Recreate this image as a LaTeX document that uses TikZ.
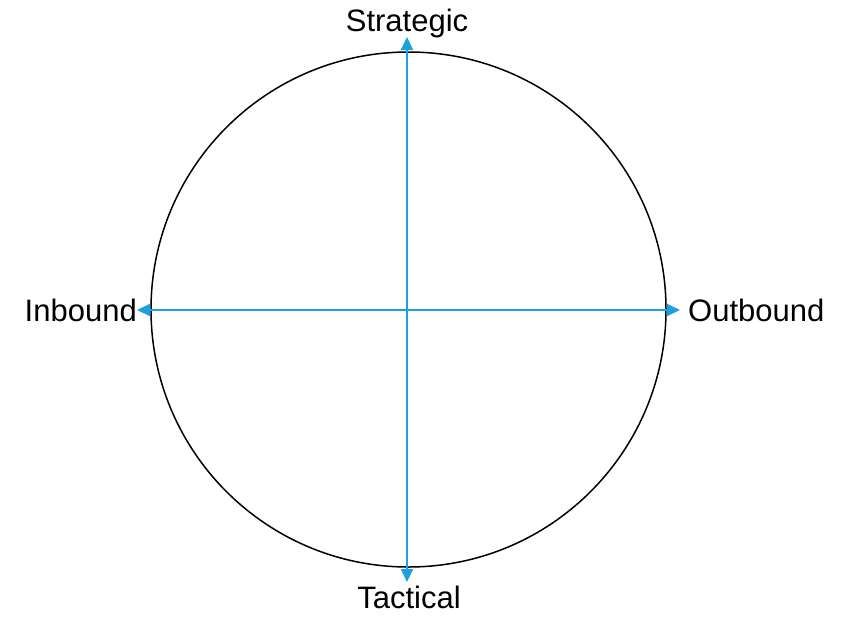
\documentclass[tikz,border=0pt]{standalone}
\usepackage{fontspec}
\setmainfont{Liberation Sans}
\usetikzlibrary{positioning}
\usetikzlibrary{arrows.meta}
\definecolor{axisblue}{RGB}{27,161,226}
\tikzstyle{ring} = [circle, draw=black, line width=1.5pt, minimum size=515pt, inner sep=0pt]
\tikzstyle{axis} = [draw=axisblue, line width=2pt, {Triangle[length=13pt,width=12pt]}-{Triangle[length=13pt,width=12pt]}]
\tikzstyle{word} = [inner sep=0pt, font=\fontsize{31}{37}\selectfont]

\begin{document}
\begin{tikzpicture}[x=1pt,y=-1pt]
      \useasboundingbox (0,0) rectangle (851,616);
      %%%%%%%%%%%%%%%%%%%%%%%%%%%%%%%%%%%%%%%
      \node (c) [ring] at (408.5,309.5) {};
      \coordinate (top) at (407,37);
      \coordinate (bot) at (407,582);
      \coordinate (lft) at (137,310);
      \coordinate (rgt) at (680,310);
      \draw[axis] (bot)--(top);
      \draw[axis] (lft)--(rgt);
      \node (strat) [word, anchor=base] at (407,31) {Strategic};
      \node (tact) [word, anchor=base] at (409,608) {Tactical};
      \node (inb) [word, anchor=base east] at (137,321) {Inbound};
      \node (outb) [word, anchor=base west] at (688,321) {Outbound};
\end{tikzpicture}
\end{document}
